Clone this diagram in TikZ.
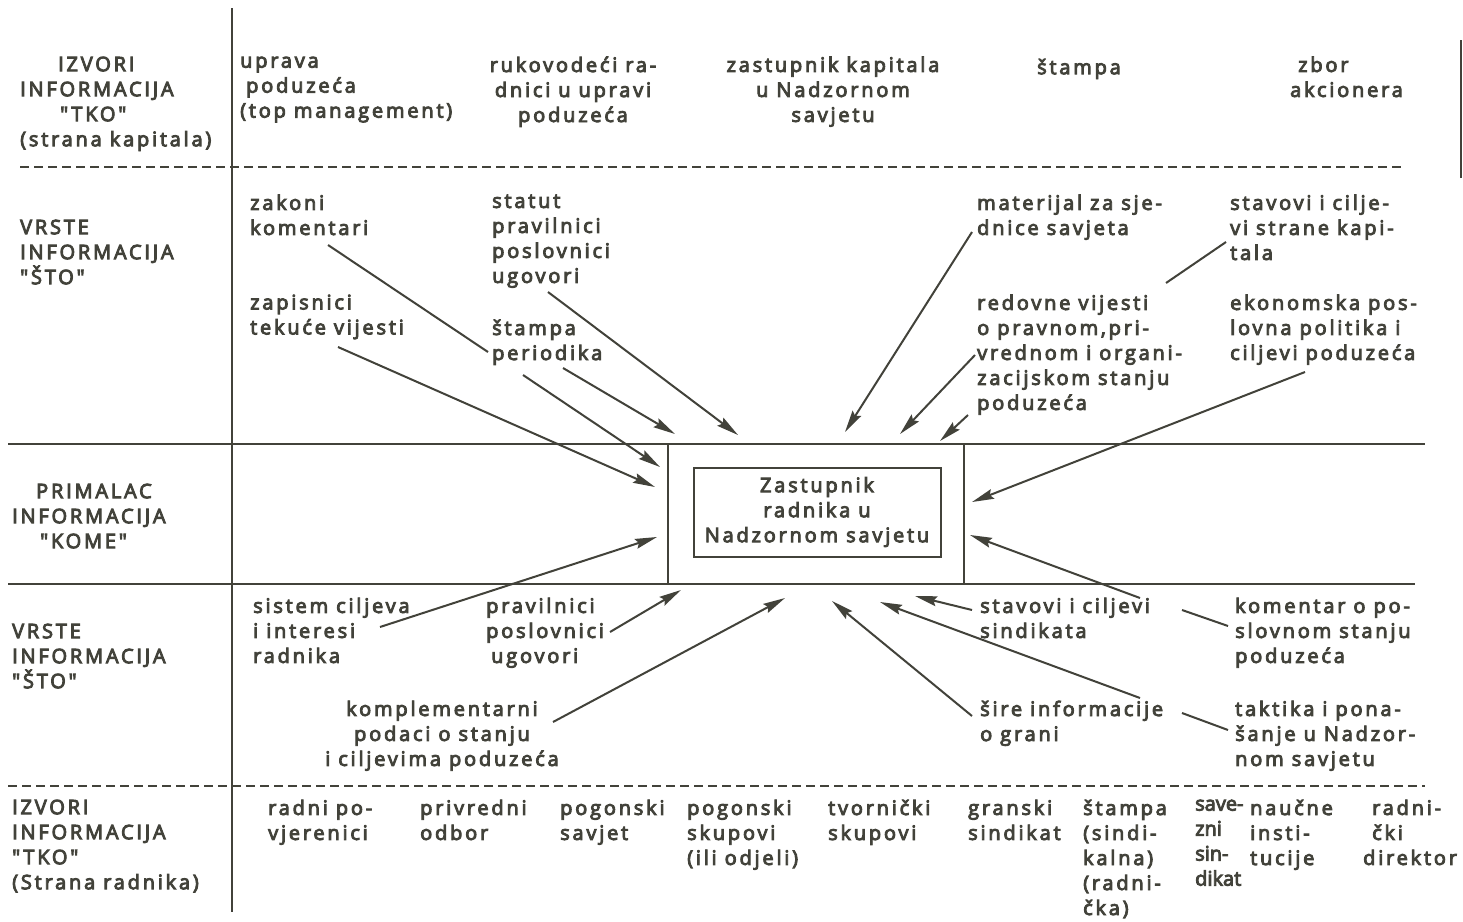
\documentclass[tikz,border=0pt]{standalone}
\usepackage{fontspec}
\newfontfamily\dfont{Open Sans}[LetterSpace=14]
\usetikzlibrary{arrows.meta}
\definecolor{ink}{HTML}{42423A}
\newcommand{\heavytext}{\special{pdf:literal direct 2 Tr 0.9 w}}
\begin{document}
\begin{tikzpicture}[x=1pt,y=-1pt,
  txt/.style={inner sep=0pt, anchor=north west, yshift=17.5pt, align=left, font=\dfont\fontsize{20}{25}\selectfont, text=ink, execute at begin node={\heavytext\strut}},
  ctxt/.style={txt, anchor=north, align=center},
  tight/.style={font=\dfont\fontsize{20}{25}\selectfont\addfontfeatures{LetterSpace=0}},
  rule/.style={draw=ink, line width=2pt},
  dashrule/.style={draw=ink, line width=1.6pt, dash pattern=on 9pt off 5pt},
  arr/.style={draw=ink, line width=2pt, -{Stealth[length=22pt,width=10pt,inset=3pt]}},
  lnk/.style={draw=ink, line width=2pt},
  box/.style={draw=ink, line width=2pt, minimum width=247pt, minimum height=89pt, inner sep=0pt, align=center, font=\dfont\fontsize{20}{25}\selectfont, text=ink, execute at begin node={\heavytext}}]
\useasboundingbox (0,0) rectangle (1463,921);
% grid lines
\draw[rule] (232,8) -- (232,912);
\draw[rule] (1461,40) -- (1461,178);
\draw[dashrule] (20,167) -- (1405,167);
\draw[rule] (8,444) -- (1425,444);
\draw[rule] (8,584) -- (1415,584);
\draw[dashrule] (8,786) -- (1425,786);
\draw[rule] (668,444) -- (668,584);
\draw[rule] (964,444) -- (964,584);
\node[box] (zast) at (817,512) {Zastupnik\\radnika u\\Nadzornom savjetu};
% top row
\node[txt] (izv1) at (20,74) {\hspace*{38pt}IZVORI\\INFORMACIJA\\\hspace*{40pt}"TKO"\\(strana kapitala)};
\node[txt] (upr) at (240,74) {uprava\\\hspace*{6pt}poduzeća\\(top management)};
\node[ctxt] (ruk) at (573,74) {rukovodeći ra-\\dnici u upravi\\poduzeća};
\node[ctxt] (zkap) at (833,74) {zastupnik kapitala\\u Nadzornom\\savjetu};
\node[ctxt] (stm) at (1079,74) {štampa};
\node[txt] (zbor) at (1290,74) {\hspace*{8pt}zbor\\akcionera};
% second section
\node[txt] (vrste1) at (20,237) {VRSTE\\INFORMACIJA\\"ŠTO"};
\node[txt] (zak) at (250,212) {zakoni\\komentari};
\node[txt] (zap) at (250,312) {zapisnici\\tekuće vijesti};
\node[txt] (stat) at (492,212) {statut\\pravilnici\\poslovnici\\ugovori};
\node[txt] (stp) at (492,337) {štampa\\periodika};
\node[txt] (mat) at (977,212) {materijal za sje-\\dnice savjeta};
\node[txt] (stk) at (1230,212) {stavovi i cilje-\\vi strane kapi-\\tala};
\node[txt] (red) at (977,312) {redovne vijesti\\o pravnom,pri-\\vrednom i organi-\\zacijskom stanju\\poduzeća};
\node[txt] (eko) at (1230,312) {ekonomska pos-\\lovna politika i\\ciljevi poduzeća};
% middle
\node[txt] (prim) at (12,501) {\hspace*{24pt}PRIMALAC\\INFORMACIJA\\\hspace*{28pt}"KOME"};
% lower section
\node[txt] (vrste2) at (12,641) {VRSTE\\INFORMACIJA\\"ŠTO"};
\node[txt] (sis) at (253,615) {sistem ciljeva\\i interesi\\radnika};
\node[txt] (prav) at (486,615) {pravilnici\\poslovnici\\\hspace*{5pt}ugovori};
\node[ctxt] (kom) at (442,718) {komplementarni\\podaci o stanju\\i ciljevima poduzeća};
\node[txt] (sind) at (980,615) {stavovi i ciljevi\\sindikata};
\node[txt] (koment) at (1235,615) {komentar o po-\\slovnom stanju\\poduzeća};
\node[txt] (sire) at (980,718) {šire informacije\\o grani};
\node[txt] (takt) at (1235,718) {taktika i pona-\\šanje u Nadzor-\\nom savjetu};
% bottom row
\node[txt] (izv2) at (12,817) {IZVORI\\INFORMACIJA\\"TKO"\\(Strana radnika)};
\node[txt] (rp) at (268,817) {radni po-\\vjerenici};
\node[txt] (po) at (420,817) {privredni\\odbor};
\node[txt] (ps) at (560,817) {pogonski\\savjet};
\node[txt] (psk) at (687,817) {pogonski\\skupovi\\(ili odjeli)};
\node[txt] (tv) at (828,817) {tvornički\\skupovi};
\node[txt] (gs) at (968,817) {granski\\sindikat};
\node[txt] (sts) at (1083,817) {štampa\\(sindi-\\kalna)\\(radni-\\čka)};
\node[txt, tight] (ss) at (1195,817) {save-\\zni\\sin-\\dikat};
\node[txt] (ni) at (1250,817) {naučne\\insti-\\tucije};
\node[txt] (rd) at (1363,817) {\hspace*{9pt}radni-\\\hspace*{9pt}čki\\direktor};
% connector coordinates
\coordinate (l0s) at (328,245); \coordinate (l0e) at (488,352);
\coordinate (a1s) at (338,347); \coordinate (a1e) at (655,487);
\coordinate (a2s) at (523,375); \coordinate (a2e) at (660,467);
\coordinate (a3s) at (563,368); \coordinate (a3e) at (675,434);
\coordinate (a4s) at (548,292); \coordinate (a4e) at (738,435);
\coordinate (b1s) at (972,232); \coordinate (b1e) at (845,432);
\coordinate (b2s) at (975,355); \coordinate (b2e) at (900,434);
\coordinate (b3s) at (968,415); \coordinate (b3e) at (940,441);
\coordinate (b4s) at (1305,372); \coordinate (b4e) at (972,502);
\coordinate (l1s) at (1226,242); \coordinate (l1e) at (1166,283);
\coordinate (k1s) at (1228,626); \coordinate (k1m) at (1182,610);
\coordinate (k2s) at (1140,598); \coordinate (k2e) at (970,535);
\coordinate (c1s) at (380,627); \coordinate (c1e) at (657,537);
\coordinate (c2s) at (610,632); \coordinate (c2e) at (681,590);
\coordinate (c3s) at (553,722); \coordinate (c3e) at (785,598);
\coordinate (c4s) at (972,716); \coordinate (c4e) at (832,601);
\coordinate (c5s) at (972,610); \coordinate (c5e) at (915,596);
\coordinate (t1s) at (1228,730); \coordinate (t1m) at (1182,713);
\coordinate (t2s) at (1140,698); \coordinate (t2e) at (880,602);
% connectors
\draw[lnk] (l0s) -- (l0e);
\draw[arr] (a1s) -- (a1e);
\draw[arr] (a2s) -- (a2e);
\draw[arr] (a3s) -- (a3e);
\draw[arr] (a4s) -- (a4e);
\draw[arr] (b1s) -- (b1e);
\draw[arr] (b2s) -- (b2e);
\draw[arr] (b3s) -- (b3e);
\draw[arr] (b4s) -- (b4e);
\draw[lnk] (l1s) -- (l1e);
\draw[lnk] (k1s) -- (k1m);
\draw[arr] (k2s) -- (k2e);
\draw[arr] (c1s) -- (c1e);
\draw[arr] (c2s) -- (c2e);
\draw[arr] (c3s) -- (c3e);
\draw[arr] (c4s) -- (c4e);
\draw[arr] (c5s) -- (c5e);
\draw[lnk] (t1s) -- (t1m);
\draw[arr] (t2s) -- (t2e);
\end{tikzpicture}
\end{document}
